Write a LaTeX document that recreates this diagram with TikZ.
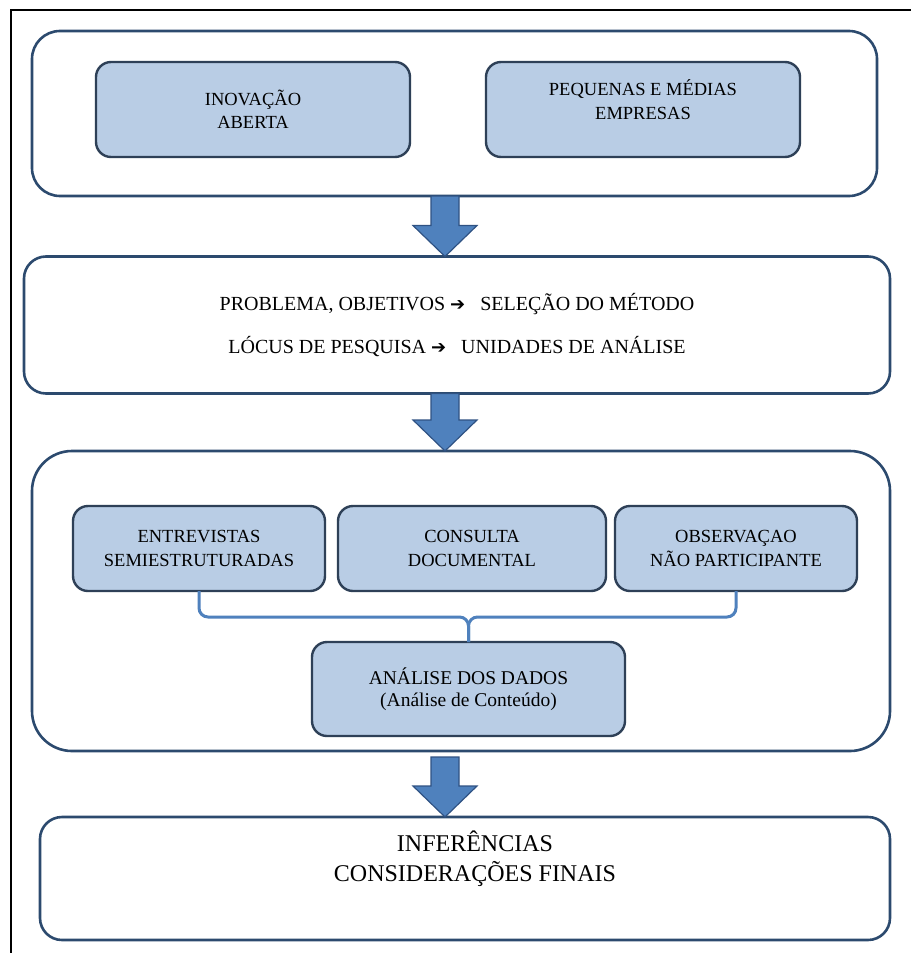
\documentclass[tikz,border=0pt]{standalone}
\usepackage{fontspec}
\setmainfont{Liberation Serif}
\newfontfamily\symfont{DejaVu Sans}
\usetikzlibrary{calc}
\definecolor{frameblue}{HTML}{2C4A6E}
\definecolor{innerline}{HTML}{2E4057}
\definecolor{innerfill}{HTML}{B9CDE5}
\definecolor{arrowfill}{HTML}{4F81BD}
\definecolor{arrowline}{HTML}{2F5283}
\definecolor{connblue}{HTML}{4F81BD}
\newcommand\sarr{{\symfont\fontsize{18bp}{18bp}\selectfont ➔}\hspace{15bp}}
\newcommand\blockarrow[2]{\draw[barrow] ($(#1)+(-14,0)$) -- ($(#2)+(-14,-31)$) -- ($(#2)+(-32,-31)$) -- (#2) -- ($(#2)+(32,-31)$) -- ($(#2)+(14,-31)$) -- ($(#1)+(14,0)$) -- cycle;}
\begin{document}
\begin{tikzpicture}[x=1bp,y=-1bp,
  outerbox/.style={draw=frameblue, line width=2.6bp, fill=white, rounded corners=#1, inner sep=0pt, outer sep=0pt},
  outerbox/.default=25bp,
  innerbox/.style={draw=innerline, line width=2.4bp, fill=innerfill, rounded corners=15bp, align=center, inner sep=0pt, outer sep=0pt, font=\fontsize{18.5bp}{23.5bp}\selectfont},
  txt/.style={align=center, inner sep=0pt, font=\fontsize{18.5bp}{24bp}\selectfont},
  conn/.style={draw=connblue, line width=3bp, rounded corners=9bp},
  barrow/.style={fill=arrowfill, draw=arrowline, line width=1.2bp, line join=miter}]
\useasboundingbox (0,0) rectangle (911,953);
% page frame
\draw[line width=2.8bp, black] (11,953) -- (11,10) -- (911,10);
% block 1
\node[outerbox=28bp, minimum width=845bp, minimum height=165bp] (b1) at (454.5,113.5) {};
\node[innerbox, minimum width=314bp, minimum height=95bp] (inov) at (253,109.5) {INOVAÇÃO\\ABERTA};
\node[innerbox, minimum width=314bp, minimum height=95bp] (pme) at (643,109.5) {};
\node[txt] (pmet) at (643,100) {PEQUENAS E MÉDIAS\\EMPRESAS};
% block 2
\node[outerbox=22bp, minimum width=866bp, minimum height=137bp, align=center,
      font=\fontsize{20bp}{43bp}\selectfont] (b2) at (457,325)
  {PROBLEMA, OBJETIVOS \sarr SELEÇÃO DO MÉTODO\\LÓCUS DE PESQUISA \sarr UNIDADES DE ANÁLISE};
% block 3
\node[outerbox=40bp, minimum width=858bp, minimum height=300bp] (b3) at (461,601) {};
\node[innerbox, minimum width=252bp, minimum height=85bp] (ent) at (199,548.5) {ENTREVISTAS\\SEMIESTRUTURADAS};
\node[innerbox, minimum width=268bp, minimum height=85bp] (cons) at (472,548.5) {CONSULTA\\DOCUMENTAL};
\node[innerbox, minimum width=242bp, minimum height=85bp] (obs) at (736,548.5) {OBSERVAÇAO\\NÃO PARTICIPANTE};
\node[innerbox, minimum width=313bp, minimum height=94bp, font=\fontsize{19.5bp}{22.5bp}\selectfont] (ana) at (468.5,689) {ANÁLISE DOS DADOS\\(Análise de Conteúdo)};
\coordinate (jn) at ($(ana.north)+(0,-25)$);
\draw[conn] (ent.south) |- (jn) -- (ana.north);
\draw[conn] (obs.south) |- (jn) -- (ana.north);
% block 4
\node[outerbox=22bp, minimum width=850bp, minimum height=123bp] (b4) at (465,878.5) {};
\node[txt, font=\fontsize{24bp}{30bp}\selectfont] (b4t) at (475,859) {INFERÊNCIAS\\CONSIDERAÇÕES FINAIS};
% block arrows
\coordinate (ax) at (445,0);
\coordinate (a1t) at (b1.south -| ax);
\coordinate (a1h) at (b2.north -| ax);
\coordinate (a2t) at (b2.south -| ax);
\coordinate (a2h) at (b3.north -| ax);
\coordinate (a3t) at ($(b3.south -| ax)+(0,6)$);
\coordinate (a3h) at (b4.north -| ax);
\blockarrow{a1t}{a1h}
\blockarrow{a2t}{a2h}
\blockarrow{a3t}{a3h}
\end{tikzpicture}
\end{document}
